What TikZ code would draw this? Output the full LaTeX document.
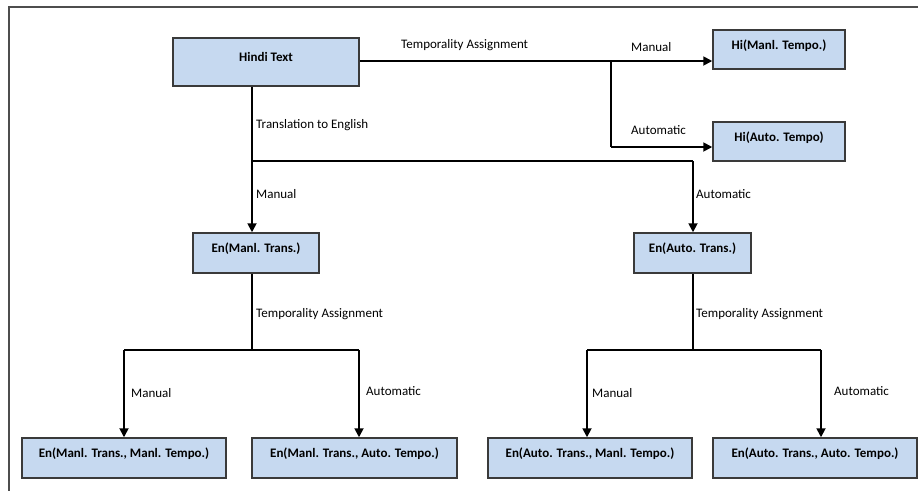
\documentclass[tikz,border=0pt]{standalone}
\usepackage{fontspec}
\setmainfont{Carlito}
\usetikzlibrary{arrows.meta}
\definecolor{boxfill}{HTML}{C6D9F0}
\definecolor{boxline}{HTML}{3A3A3A}
\definecolor{frameline}{HTML}{4D4D4D}
\tikzset{
  box/.style={draw=boxline, line width=1.5pt, fill=boxfill, rectangle, inner sep=0pt,
    font=\fontsize{13}{15}\selectfont\bfseries, text height=9pt, text depth=10pt},
  conn/.style={line width=1.8pt, black},
  arr/.style={conn, -{Triangle[length=9pt,width=9pt]}},
  lbl/.style={font=\fontsize{13}{15}\selectfont, inner sep=0pt, anchor=west}
}
\begin{document}
\begin{tikzpicture}[x=1pt,y=-1pt]
\useasboundingbox (0,0) rectangle (918,491);
% outer frame
\draw[frameline, line width=2pt] (918,7) -- (9,7) -- (9,491);
% boxes
\node[box, minimum width=186pt, minimum height=48pt] (hindi) at (266,62) {Hindi Text};
\node[box, minimum width=132pt, minimum height=39pt] (himanl) at (779,49.5) {Hi(Manl. Tempo.)};
\node[box, minimum width=132pt, minimum height=39pt] (hiauto) at (779,141.5) {Hi(Auto. Tempo)};
\node[box, minimum width=126pt, minimum height=40pt] (enmanl) at (256,253) {En(Manl. Trans.)};
\node[box, minimum width=117pt, minimum height=40pt] (enauto) at (692.5,253) {En(Auto. Trans.)};
\node[box, minimum width=204pt, minimum height=40pt] (mm) at (124,458) {En(Manl. Trans., Manl. Tempo.)};
\node[box, minimum width=205pt, minimum height=40pt] (ma) at (354.5,458) {En(Manl. Trans., Auto. Tempo.)};
\node[box, minimum width=204pt, minimum height=40pt] (am) at (590,458) {En(Auto. Trans., Manl. Tempo.)};
\node[box, minimum width=204pt, minimum height=40pt] (aa) at (815,458) {En(Auto. Trans., Auto. Tempo.)};
% junction coordinates
\coordinate (j1) at (611,61);
\coordinate (j2) at (611,147);
\coordinate (t1) at (252,161);
\coordinate (t2) at (693,161);
\coordinate (m1) at (252,350);
\coordinate (m2) at (124,350);
\coordinate (m3) at (359,350);
\coordinate (a1) at (693,350);
\coordinate (a2) at (587,350);
\coordinate (a3) at (821,350);
% Hindi temporality
\draw[conn] (hindi.east |- j1) -- (j1);
\draw[arr] (j1) -- (j1 -| himanl.west);
\draw[conn] (j1) -- (j2);
\draw[arr] (j2) -- (j2 -| hiauto.west);
% translation
\draw[conn] (t1 |- hindi.south) -- (t1) -- (t2);
\draw[arr] (t1) -- (t1 |- enmanl.north);
\draw[arr] (t2) -- (t2 |- enauto.north);
% manual translation branch
\draw[conn] (m1 |- enmanl.south) -- (m1);
\draw[conn] (m2) -- (m3);
\draw[arr] (m2) -- (m2 |- mm.north);
\draw[arr] (m3) -- (m3 |- ma.north);
% automatic translation branch
\draw[conn] (a1 |- enauto.south) -- (a1);
\draw[conn] (a2) -- (a3);
\draw[arr] (a2) -- (a2 |- am.north);
\draw[arr] (a3) -- (a3 |- aa.north);
% labels
\node[lbl] (l1) at (401,45) {Temporality Assignment};
\node[lbl] (l2) at (631,47) {Manual};
\node[lbl] (l3) at (631,130) {Automatic};
\node[lbl] (l4) at (256,125) {Translation to English};
\node[lbl] (l5) at (256,194) {Manual};
\node[lbl] (l6) at (696,194) {Automatic};
\node[lbl] (l7) at (256,314) {Temporality Assignment};
\node[lbl] (l8) at (696,314) {Temporality Assignment};
\node[lbl] (l9) at (131,393) {Manual};
\node[lbl] (l10) at (366,391) {Automatic};
\node[lbl] (l11) at (592,393) {Manual};
\node[lbl] (l12) at (834,391) {Automatic};
\end{tikzpicture}
\end{document}
